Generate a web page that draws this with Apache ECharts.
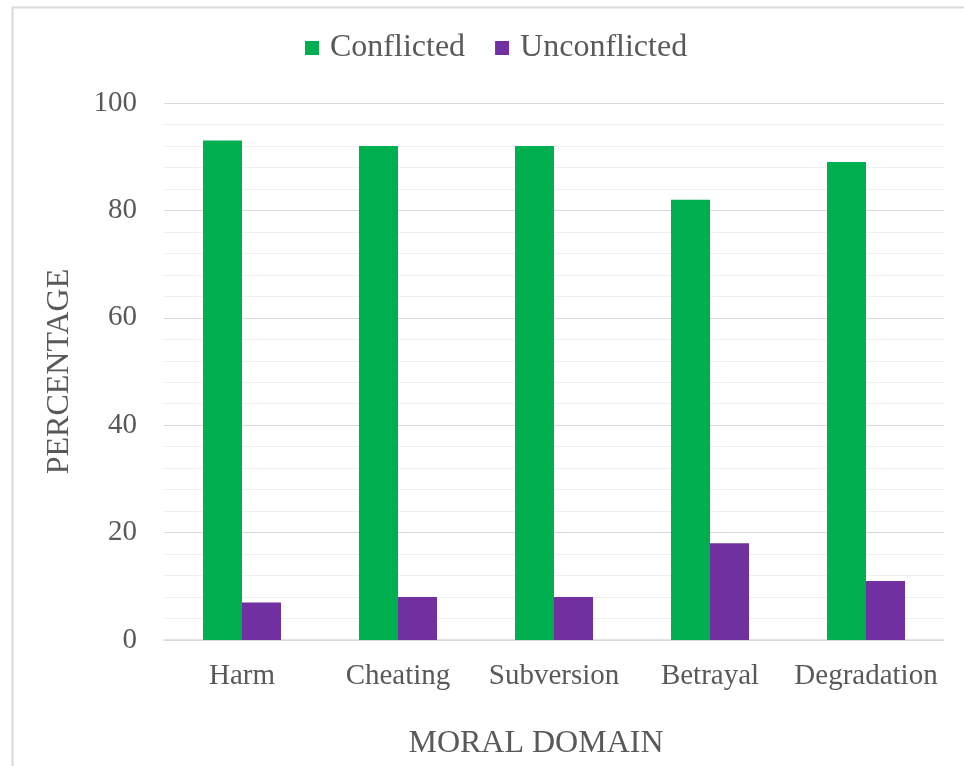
<!DOCTYPE html>
<html><head><meta charset="utf-8">
<script src="https://cdn.jsdelivr.net/npm/echarts@6/dist/echarts.min.js"></script>
<style>html,body{margin:0;padding:0;background:#fff}#c{width:964px;height:766px}</style>
</head><body><div id="c"></div>
<script>
const categories = ["Harm", "Cheating", "Subversion", "Betrayal", "Degradation"];
const conflicted = [93, 92, 92, 82, 89];
const unconflicted = [7, 8, 8, 18, 11];
const yTicks = [0, 20, 40, 60, 80, 100];

const chart = echarts.init(document.getElementById('c'));
const font = "'Liberation Serif', 'Times New Roman', serif";
chart.setOption({
  animation: false,
  backgroundColor: '#fff',
  graphic: [{
    type: 'rect', left: 10, top: 5,
    shape: { width: 1000, height: 800 },
    style: { fill: 'none', stroke: '#d9d9d9', lineWidth: 2 }, z: -1
  }],
  legend: {
    top: 32, left: 305, padding: 0, itemWidth: 14, itemHeight: 14, itemGap: 30,
    icon: 'rect',
    textStyle: { fontFamily: font, fontSize: 32, color: '#595959', padding: [0, 0, 0, 6] },
    data: ['Conflicted', 'Unconflicted']
  },
  grid: { left: 164, right: 20, top: 103, bottom: 126 },
  xAxis: {
    type: 'category', data: categories,
    axisTick: { show: false },
    axisLine: { lineStyle: { color: '#d9d9d9', width: 1.5 } },
    axisLabel: { fontFamily: font, fontSize: 29, color: '#595959', margin: 22, interval: 0 },
    name: 'MORAL DOMAIN', nameLocation: 'middle', nameGap: 88,
    nameTextStyle: { fontFamily: font, fontSize: 32, color: '#595959', padding: [0, 36, 0, 0] }
  },
  yAxis: {
    type: 'value', min: yTicks[0], max: yTicks[yTicks.length - 1], interval: 20,
    axisLine: { show: false }, axisTick: { show: false },
    axisLabel: { fontFamily: font, fontSize: 29, color: '#595959', margin: 27 },
    splitLine: { lineStyle: { color: '#d9d9d9', width: 1 } },
    minorTick: { show: false, splitNumber: 5 },
    minorSplitLine: { show: true, lineStyle: { color: '#f0f0f0', width: 1 } },
    name: 'PERCENTAGE', nameLocation: 'middle', nameGap: 88,
    nameTextStyle: { fontFamily: font, fontSize: 32, color: '#595959' }
  },
  series: [
    { name: 'Conflicted', type: 'bar', data: conflicted, barWidth: '25%', barGap: '0%',
      itemStyle: { color: '#00b050' } },
    { name: 'Unconflicted', type: 'bar', data: unconflicted, barWidth: '25%', barGap: '0%',
      itemStyle: { color: '#7030a0' } }
  ]
});
</script></body></html>
